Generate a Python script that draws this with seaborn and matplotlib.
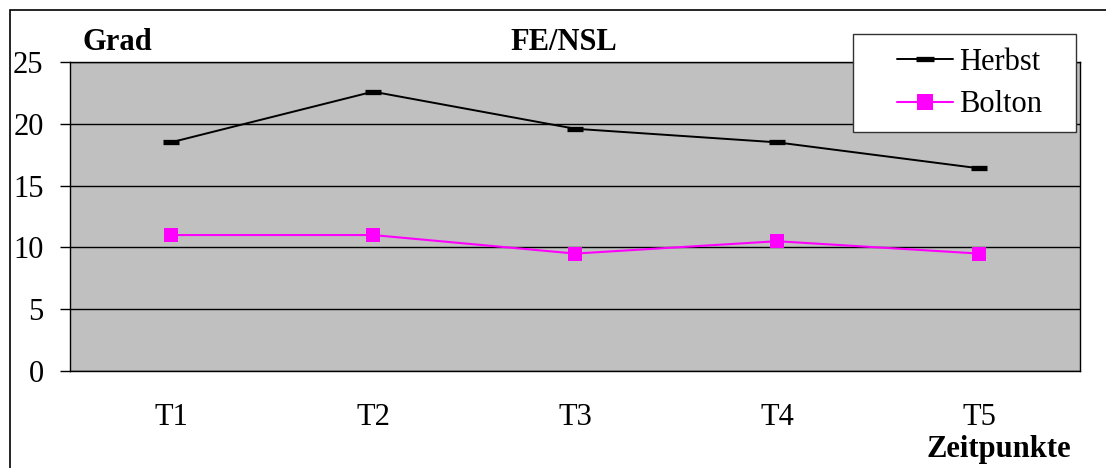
import numpy as np
import pandas as pd
import matplotlib
matplotlib.use("Agg")
import matplotlib.pyplot as plt
import seaborn as sns
from matplotlib.patches import Rectangle

# values
zeitpunkte = ["T1", "T2", "T3", "T4", "T5"]
herbst = [18.5, 22.6, 19.6, 18.5, 16.4]
bolton = [11.0, 11.0, 9.5, 10.5, 9.5]

df = pd.DataFrame({"zeit": zeitpunkte, "Herbst": herbst, "Bolton": bolton})

W, H = 1106, 468
FS = 22

sns.set_style("white")
plt.rcParams["font.family"] = ["Liberation Serif", "DejaVu Serif"]
plt.rcParams["text.color"] = "black"
plt.rcParams["xtick.color"] = "black"
plt.rcParams["ytick.color"] = "black"

fig = plt.figure(figsize=(W / 100, H / 100), dpi=100)
ax = fig.add_axes([70 / W, 1 - 371 / H, 1010 / W, 309 / H])
ax.set_facecolor("#c0c0c0")

x = np.arange(len(zeitpunkte))
sns.lineplot(x=x, y=df["Herbst"], ax=ax, color="black", lw=1.4,
             marker="_", markersize=11, markeredgewidth=3.8,
             markeredgecolor="black", label="Herbst")
sns.lineplot(x=x, y=df["Bolton"], ax=ax, color="#ff00ff", lw=1.5,
             marker="s", markersize=10, markeredgewidth=0,
             markerfacecolor="#ff00ff", label="Bolton")

ax.set_xlim(-0.5, len(zeitpunkte) - 0.5)
ax.set_ylim(0, 25)
ax.set_yticks([0, 5, 10, 15, 20, 25])
ax.set_xticks(x)
ax.set_xticklabels(zeitpunkte)
ax.set_xlabel("")
ax.set_ylabel("")
ax.tick_params(axis="y", labelsize=FS, length=7, width=1, color="black",
               direction="out", left=True, pad=12, labelcolor="black")
ax.tick_params(axis="x", labelsize=FS, length=0, pad=23, labelcolor="black")
ax.yaxis.grid(True, color="black", lw=1)
ax.xaxis.grid(False)
ax.set_axisbelow(True)
for s in ax.spines.values():
    s.set_visible(True)
    s.set_color("black")
    s.set_linewidth(1)

# legend box with white fill drawn over the plot area
ax.add_patch(Rectangle((853 / W, 1 - 132 / H), 223 / W, 98 / H,
                       transform=fig.transFigure, clip_on=False,
                       facecolor="white", edgecolor="#333333", lw=1,
                       zorder=4))
leg = ax.legend(loc="center left", bbox_to_anchor=(897 / W, 1 - 83.5 / H),
                bbox_transform=fig.transFigure, fontsize=FS, frameon=False,
                borderpad=0, handlelength=56 / 30.5, handletextpad=0.2,
                labelspacing=0.45, borderaxespad=0, markerscale=1.2)
leg.set_zorder(5)
for t in leg.get_texts():
    t.set_color("black")

fig.text(83 / W, 1 - 43 / H, "Grad", fontsize=FS, fontweight="bold",
         ha="left", va="center")
fig.text(564 / W, 1 - 43 / H, "FE/NSL", fontsize=FS, fontweight="bold",
         ha="center", va="center")
fig.text(999 / W, 1 - 450 / H, "Zeitpunkte", fontsize=FS,
         fontweight="bold", ha="center", va="center")

fig.patches.append(Rectangle((10 / W, -0.1), 1.2, 1.1 - 10 / H,
                             transform=fig.transFigure, fill=False,
                             edgecolor="black", lw=1.2))

fig.savefig("out.png", dpi=100)
